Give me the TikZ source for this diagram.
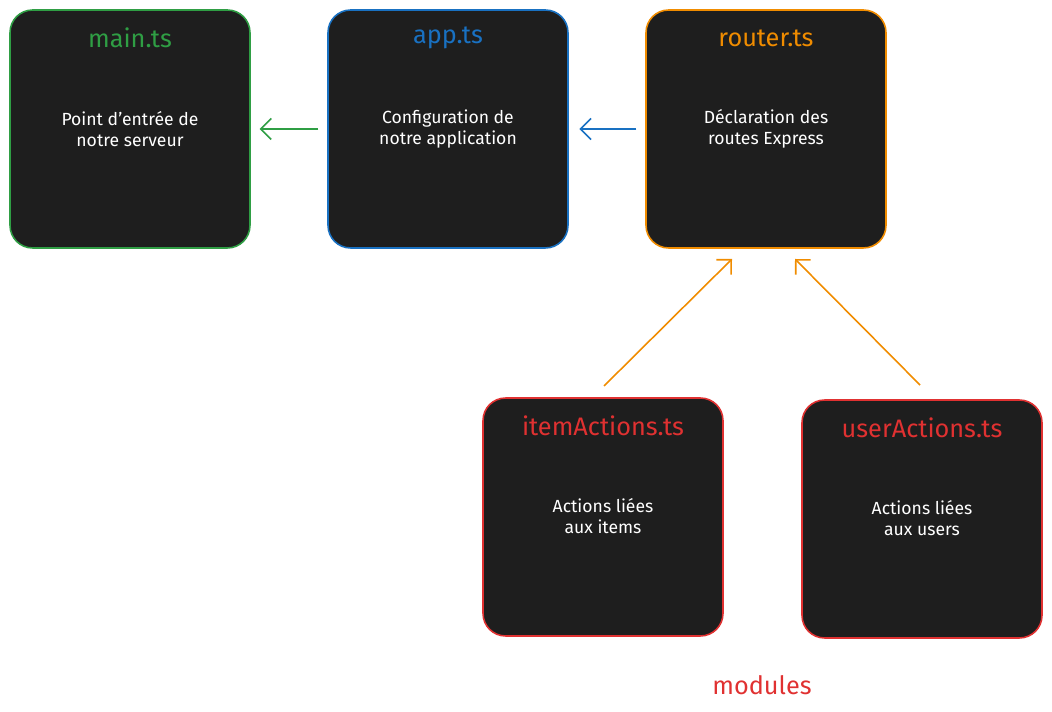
\documentclass[tikz,border=0pt]{standalone}
\usepackage{fontspec}
\setmainfont{Fira Sans}
\usetikzlibrary{positioning,arrows.meta}
\definecolor{boxfill}{HTML}{1E1E1E}
\definecolor{cgreen}{HTML}{2F9E44}
\definecolor{cblue}{HTML}{1971C2}
\definecolor{corange}{HTML}{F08C00}
\definecolor{cred}{HTML}{E03131}
\tikzset{
  file/.style={draw=#1, fill=boxfill, rounded corners=0.45cm, line width=0.9pt,
    minimum width=4.8cm, minimum height=4.76cm},
  title/.style={text=#1, font=\Large},
  desc/.style={text=white, align=center, font=\normalsize},
  link/.style={draw=#1, line width=0.9pt, -{Straight Barb[length=6pt,width=12pt]}}
}
\begin{document}
\begin{tikzpicture}[x=0.02cm,y=-0.02cm]
  \useasboundingbox (0,0) rectangle (1052,712);

  % boxes
  \node[file=cgreen] (main) at (130,129) {};
  \node[file=cblue] (app) at (448,129) {};
  \node[file=corange] (router) at (766,129) {};
  \node[file=cred] (item) at (603,517) {};
  \node[file=cred] (user) at (922,519) {};

  % titles
  \node[title=cgreen] (maint) at (130,38) {main.ts};
  \node[title=cblue] (appt) at (448,38) {app.ts};
  \node[title=corange] (routert) at (766,38) {router.ts};
  \node[title=cred] (itemt) at (603,426) {itemActions.ts};
  \node[title=cred] (usert) at (922,428) {userActions.ts};

  % descriptions
  \node[desc] (maind) at (130,129) {Point d'entrée de\\notre serveur};
  \node[desc] (appd) at (448,129) {Configuration de\\notre application};
  \node[desc] (routerd) at (766,129) {Déclaration des\\routes Express};
  \node[desc] (itemd) at (603,516) {Actions liées\\aux items};
  \node[desc] (userd) at (922,518) {Actions liées\\aux users};

  \node[text=cred, font=\Large] (modules) at (762,685) {modules};

  % arrow ends
  \coordinate (itemS) at (604,386);
  \coordinate (itemE) at (732,259);
  \coordinate (userS) at (920,385);
  \coordinate (userE) at (795,259);

  \draw[link=cgreen, shorten <=5pt, shorten >=5pt] (app.west) -- (main.east);
  \draw[link=cblue, shorten <=5pt, shorten >=6pt] (router.west) -- (app.east);
  \draw[link=corange] (itemS) -- (itemE);
  \draw[link=corange] (userS) -- (userE);
\end{tikzpicture}
\end{document}
